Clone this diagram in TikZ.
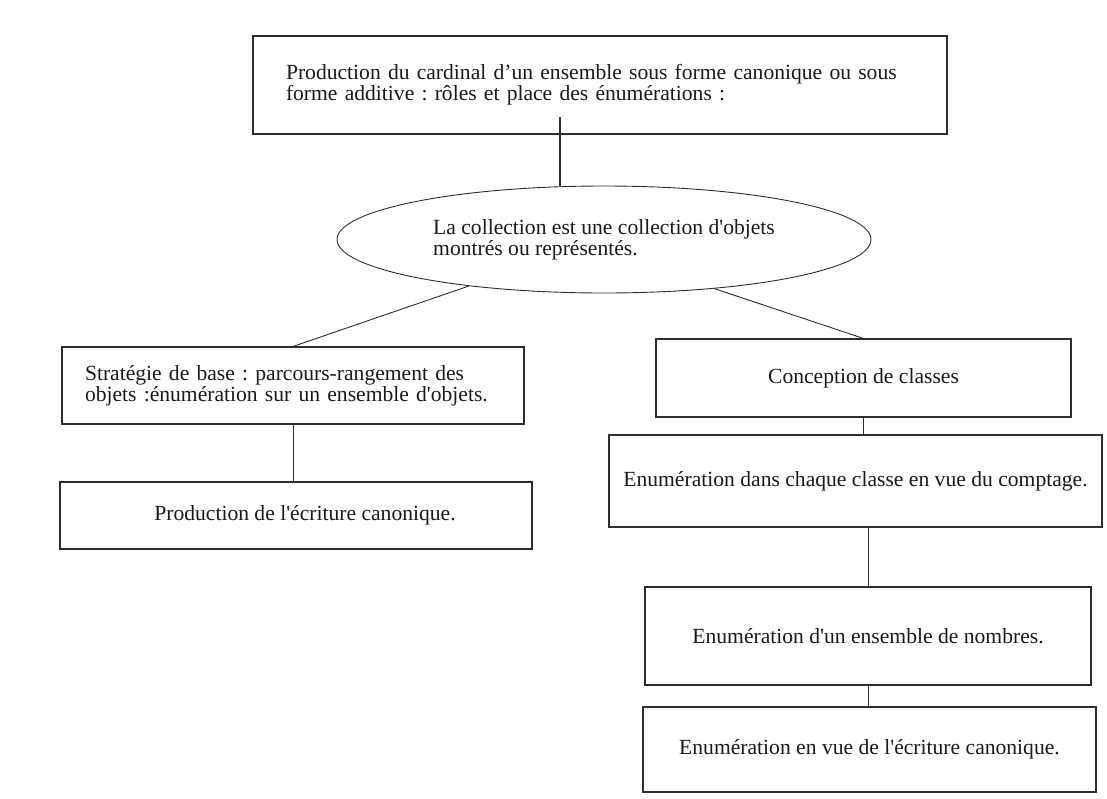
\documentclass[tikz,border=0pt]{standalone}
\usepackage{fontspec}
\setmainfont{Liberation Serif}
\usepackage{tikz}
\usetikzlibrary{shapes.geometric, positioning}
\definecolor{scanink}{RGB}{45, 45, 45}
\newcommand{\sq}{\textquotesingle}
\frenchspacing

\begin{document}
\begin{tikzpicture}[x=1pt, y=-1pt,
    box/.style={draw=scanink, line width=1.1pt, inner sep=0pt, text=black!90,
                font=\fontsize{21.6}{21}\selectfont},
    link/.style={draw=scanink, line width=0.9pt}]
  \useasboundingbox (0,0) rectangle (1107,798);

  % top of the tree
  \node[box, minimum width=694pt, minimum height=98pt, text width=628pt, align=left]
        (cardinal) at (600,85) {%
        Production du cardinal d'un ensemble sous forme canonique ou sous\\
        forme additive : rôles et place des énumérations :};
  \node[box, ellipse, line width=0.9pt, minimum width=534pt, minimum height=107pt, align=left]
        (collection) at (604,239.5) {%
        La collection est une collection d\sq objets\\
        montrés ou représentés.};

  % left branch
  \node[box, minimum width=462pt, minimum height=77pt, text width=416pt, align=left]
        (strategie) at (293,385.5) {%
        Stratégie de base : parcours-rangement des\\
        objets :énumération sur un ensemble d\sq objets.};
  \node[box, minimum width=472pt, minimum height=67pt]
        (ecriture) at (296,515.5) {\hspace*{18pt}Production de l\sq écriture canonique.};

  % right branch
  \node[box, minimum width=415pt, minimum height=78pt]
        (classes) at (863.5,378) {Conception de classes};
  \node[box, minimum width=493pt, minimum height=92pt]
        (comptage) at (855.5,481) {Enumération dans chaque classe en vue du comptage.};
  \node[box, minimum width=446pt, minimum height=98pt]
        (nombres) at (868,636) {Enumération d\sq un ensemble de nombres.};
  \node[box, minimum width=453pt, minimum height=85pt]
        (canonique) at (869.5,749.5) {Enumération en vue de l\sq écriture canonique.};

  % connectors
  \coordinate (stem) at (560,117);
  \draw[link, line width=2pt] (stem) -- (stem |- collection.north);
  \draw[link] (collection.199) -- (strategie.north);
  \draw[link] (collection.-24) -- (classes.north);
  \draw[link] (strategie.south) -- (strategie.south |- ecriture.north);
  \draw[link] (classes.south) -- (classes.south |- comptage.north);
  \draw[link] (nombres.north |- comptage.south) -- (nombres.north);
  \draw[link] (nombres.south) -- (nombres.south |- canonique.north);
\end{tikzpicture}
\end{document}
